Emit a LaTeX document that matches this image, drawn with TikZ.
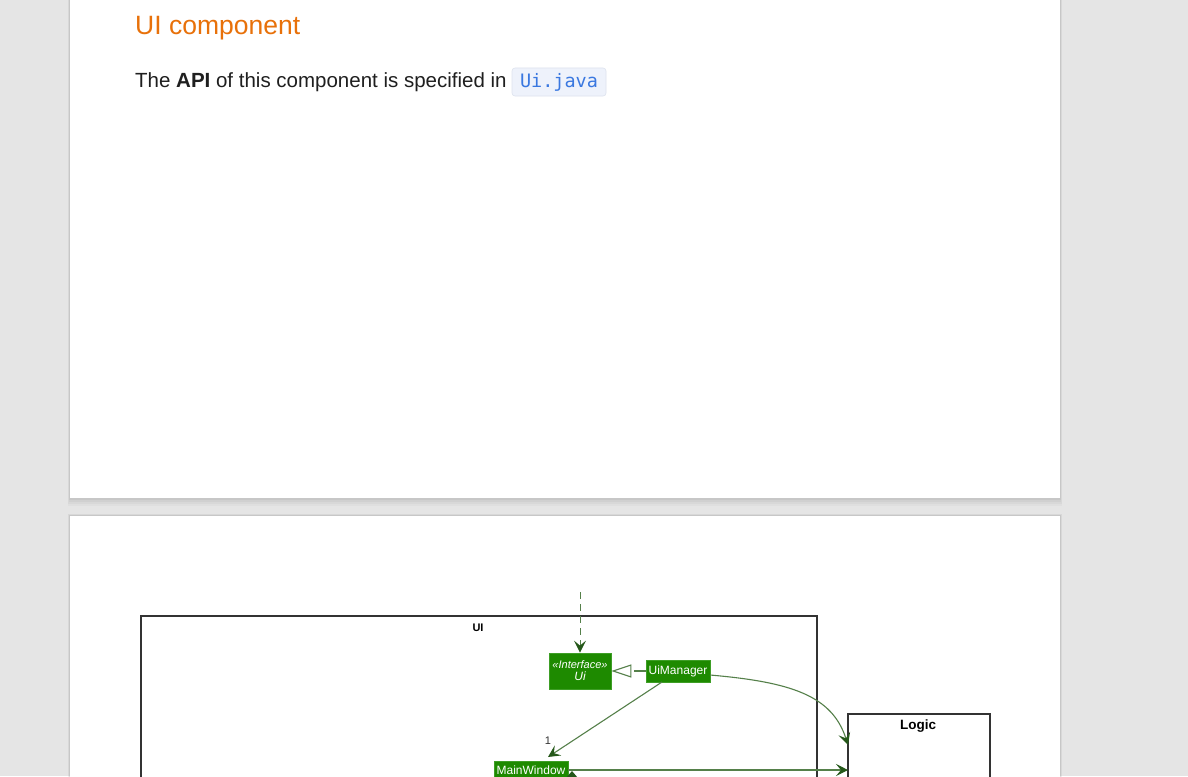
\documentclass[tikz,border=0pt]{standalone}
\usepackage{fontspec}
\setmainfont{Liberation Sans}
\newfontfamily\codefont{DejaVu Sans Mono}
\usetikzlibrary{arrows.meta}
\definecolor{deskgray}{HTML}{E5E5E5}
\definecolor{headorange}{HTML}{E8710A}
\definecolor{bodyink}{HTML}{1F1F1F}
\definecolor{codeblue}{HTML}{3A78E0}
\definecolor{codebg}{HTML}{EEF2FB}
\definecolor{codeedge}{HTML}{DDE3EE}
\definecolor{classgreen}{HTML}{1E8A00}
\definecolor{classedge}{HTML}{3E9E26}
\definecolor{linkgreen}{HTML}{55804A}
\definecolor{tipgreen}{HTML}{25581A}
\definecolor{frameink}{HTML}{333333}
\tikzset{
  page/.style={fill=white, draw=none},
  umlclass/.style={fill=classgreen, draw=classedge, line width=0.8pt, text=white,
    font=\fontsize{12}{13}\selectfont, inner sep=0pt, align=center},
  pkgframe/.style={draw=frameink, line width=1.4pt},
  pkgtitle/.style={font=\bfseries\fontsize{11}{12}\selectfont, inner sep=0pt},
  assoc/.style={draw=linkgreen, line width=1.1pt,
    -{Stealth[length=12pt, width=12pt, inset=5pt, color=tipgreen]}},
  realize/.style={draw=linkgreen, line width=1.1pt,
    -{Triangle[open, length=20pt, width=13pt, color=linkgreen, fill=white]}},
}
\begin{document}
\begin{tikzpicture}[x=1pt, y=-1pt]
\useasboundingbox (0,0) rectangle (1188,776);
\clip (0,0) rectangle (1188,776);
\fill[deskgray] (0,0) rectangle (1188,776);

% soft shadows under the two sheets
\foreach \d/\o in {8/0.025,6/0.03,4/0.035,2/0.04} {
  \fill[black, opacity=\o] (70-\d*0.3,-10) rectangle (1060+\d*0.3,498+\d);
  \fill[black, opacity=\o] (70-\d*0.3,516-\d*0.3) rectangle (1060+\d*0.3,790);
}
\fill[page] (70,-10) rectangle (1060,498);
\fill[page] (70,516) rectangle (1060,790);

% heading and API sentence
\node[anchor=base west, inner sep=0pt, text=headorange,
      font=\fontsize{26.5}{30}\selectfont] (heading) at (135,35) {UI component};
\node[anchor=base west, inner sep=0pt, text=bodyink,
      font=\fontsize{20.5}{24}\selectfont] (apitext) at (135,88)
      {The \textbf{API} of this component is specified in};
\fill[codebg, draw=codeedge, line width=0.6pt, rounded corners=3pt]
  (512,68) rectangle (606,96);
\node[anchor=base, inner sep=0pt, text=codeblue,
      font=\codefont\fontsize{18.5}{20}\selectfont] (uijava) at (559,88) {Ui.java};

% package frames
\draw[pkgframe] (141,800) |- (817,616) -- (817,800);
\node[pkgtitle] (uititle) at (478,628) {UI};
\draw[pkgframe] (848,800) |- (990,714) -- (990,800);
\node[pkgtitle, font=\bfseries\fontsize{13.5}{15}\selectfont] (logictitle) at (918,726) {Logic};
\coordinate (logicupper) at (848,745);
\coordinate (logicmid) at (848,770);

% classes
\node[umlclass, minimum width=62pt, minimum height=36pt] (ui) at (580,671)
  {\fontsize{11}{12}\selectfont\itshape\guillemotleft Interface\guillemotright\\[-1pt]\itshape Ui};
\node[umlclass, minimum width=64pt, minimum height=22pt] (uimanager) at (678,671) {UiManager};
\node[umlclass, minimum width=74pt, minimum height=18pt] (mainwindow) at (531,770) {MainWindow};

% connectors
\coordinate (callsite) at (580,592);
\coordinate (umfoot) at (662,682);
\coordinate (mwtop) at (548,757);
\coordinate (umright) at (710,675);
\draw[assoc, dash pattern=on 7pt off 5pt, line width=0.9pt] (callsite) -- (ui.north);
\draw[realize, dash pattern=on 12pt off 5pt] (uimanager.west) -- (ui.east);
\draw[assoc] (umfoot) -- (mwtop);
\node[font=\fontsize{11}{12}\selectfont, text=frameink, inner sep=0pt] (one) at (548,741) {1};
\draw[assoc] (umright) .. controls (790,682) and (832,695) .. (logicupper);
\draw[assoc] (mainwindow.east) -- (logicmid);

% composition diamond just below MainWindow
\fill[tipgreen] (572,771) -- (578,778) -- (572,785) -- (566,778) -- cycle;
\end{tikzpicture}
\end{document}
